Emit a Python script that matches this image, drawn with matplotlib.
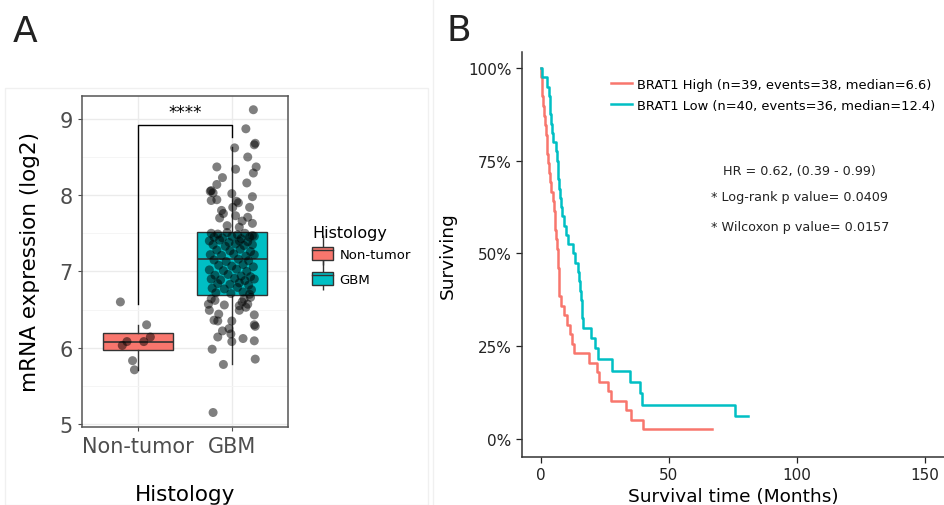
import numpy as np
import matplotlib
matplotlib.use('Agg')
import matplotlib.pyplot as plt
import matplotlib.patches as mpatches
from matplotlib.lines import Line2D
from matplotlib.legend_handler import HandlerPatch

# ---- panel A data ----
groups = ['Non-tumor', 'GBM']
group_colors = ['#F8766D', '#00BFC4']
box_q1 = [5.97, 6.69]
box_med = [6.08, 7.16]
box_q3 = [6.19, 7.52]
whisker_lo = [5.71, 5.78]
whisker_hi = [6.30, 8.63]

normal_jitter = [-0.19, 0.09, -0.17, -0.12, 0.06, 0.13, -0.06, -0.04]
normal_expr = [6.60, 6.30, 6.03, 6.08, 6.08, 6.14, 5.83, 5.71]

gbm_jitter = [
    0.23, 0.15, 0.24, 0.25, 0.03, 0.17, 0.26, -0.16, 0.04, 0.23, -0.10, 0.16,
    -0.16, -0.22, -0.20, -0.23, 0.22, 0.00, -0.16, -0.22, 0.05, 0.07, -0.11,
    0.01, 0.19, -0.13, 0.04, 0.17, 0.22, -0.05, 0.11, -0.09, 0.08,
    -0.22, -0.15, -0.05, 0.06, 0.14, 0.22, -0.19, -0.10, 0.00, 0.10, 0.19,
    0.24, -0.24, -0.13, -0.03, 0.08, 0.17, -0.20, -0.07, 0.04, 0.13, 0.22,
    -0.16, -0.02, 0.09, 0.20, -0.23, -0.11, 0.02, 0.15, 0.24, -0.19, -0.06,
    0.07, 0.18, -0.14, 0.00, 0.12, 0.23, -0.24, -0.09, 0.05, 0.16, -0.18,
    -0.04, 0.10, 0.20, -0.22, -0.12, 0.03, 0.14, 0.24, -0.15, -0.02, 0.08,
    0.18, -0.21, -0.08, 0.06, 0.21, -0.17, -0.01, 0.12, 0.19,
    -0.22, -0.08, -0.24, -0.14, -0.19, -0.15, 0.11, 0.17, 0.15, 0.08, 0.24,
    0.00, 0.24, 0.25, -0.10, -0.03, -0.01, -0.15, 0.00, 0.12, 0.24, -0.21,
    0.25, -0.09, -0.20, 0.13, -0.25, 0.08, -0.18, 0.20,
]
gbm_expr = [
    9.12, 8.87, 8.66, 8.68, 8.62, 8.50, 8.37, 8.37, 8.34, 8.29, 8.23, 8.16,
    8.14, 8.06, 8.03, 8.05, 7.98, 8.02, 7.94, 7.93, 7.92, 7.90, 7.80,
    7.84, 7.84, 7.70, 7.73, 7.71, 7.63, 7.60, 7.66, 7.76, 7.58,
    7.50, 7.49, 7.51, 7.48, 7.50, 7.47, 7.45, 7.44, 7.46, 7.43, 7.45,
    7.46, 7.40, 7.41, 7.38, 7.40, 7.39, 7.35, 7.33, 7.36, 7.34, 7.35,
    7.28, 7.27, 7.29, 7.26, 7.22, 7.21, 7.23, 7.20, 7.22, 7.15, 7.13,
    7.16, 7.14, 7.08, 7.07, 7.09, 7.06, 7.02, 7.01, 7.03, 7.00, 6.95,
    6.96, 6.94, 6.93, 6.90, 6.89, 6.91, 6.88, 6.90, 6.84, 6.83, 6.85,
    6.82, 6.78, 6.77, 6.79, 6.76, 6.72, 6.71, 6.73, 6.70,
    6.64, 6.56, 6.49, 6.44, 6.36, 6.35, 6.60, 6.57, 6.53, 6.49, 6.43,
    6.35, 6.30, 6.28, 6.22, 6.25, 6.18, 6.14, 6.08, 6.12, 6.09, 5.98,
    5.85, 5.78, 5.15, 6.64, 6.57, 6.55, 6.62, 6.66,
]

# ---- panel B data ----
high_times = [0.2, 0.4, 0.6, 0.9, 1.2, 1.5, 1.9, 2.2, 2.5, 2.9, 3.2, 3.7, 4.1,
              4.6, 5.0, 5.3, 5.6, 5.8, 6.1, 6.6, 6.8, 7.0, 7.1, 7.2, 7.9, 9.1,
              10.0, 11.3, 12.2, 13.0, 18.9, 22.0, 22.8, 26.3, 27.2, 33.2, 35.0,
              39.7, 66.7]
high_events = [1] * 38 + [0]
low_times = [0.3, 2.2, 3.3, 3.5, 3.6, 3.8, 4.3, 4.8, 5.8, 6.2, 6.5, 6.8, 7.1,
             7.4, 7.7, 8.1, 9.0, 9.8, 10.5, 12.4, 13.3, 14.6, 15.0, 15.3, 15.6,
             15.9, 16.2, 16.5, 17.5, 19.4, 21.1, 21.5, 22.4, 27.6, 34.8, 38.7,
             39.3, 75.8, 81.0, 81.0]
low_events = [1] * 28 + [0, 1, 1, 0, 1, 1, 1, 1, 1, 1, 0, 0]
km_labels = ['BRAT1 High (n=39, events=38, median=6.6)',
             'BRAT1 Low (n=40, events=36, median=12.4)']
km_colors = ['#F8766D', '#00BFC4']


def km_curve(times, events):
    order = np.argsort(times, kind='stable')
    t = np.asarray(times, dtype=float)[order]
    e = np.asarray(events)[order]
    xs, ys = [0.0], [1.0]
    s = 1.0
    at_risk = len(t)
    for ti, ei in zip(t, e):
        if ei:
            s *= (at_risk - 1) / at_risk
            xs.append(ti)
            ys.append(s)
        at_risk -= 1
    xs.append(t.max())
    ys.append(s)
    return xs, ys


def box_key(legend, orig_handle, xdescent, ydescent, width, height, fontsize):
    return mpatches.Rectangle((-xdescent, -ydescent + height * 0.2), width, height * 0.6)


fig = plt.figure(figsize=(9.44, 5.06), dpi=100)
W, H = 944, 506

# faint panel frames
fig.patches.append(mpatches.Rectangle((5 / W, 0), 423 / W, 417 / H, transform=fig.transFigure,
                                      fill=False, edgecolor='#F0F0F0', linewidth=1))
fig.add_artist(Line2D([433 / W, 433 / W], [0, 1], color='#F0F0F0', linewidth=1))

# ---------------- panel A ----------------
axA = fig.add_axes([82 / W, 1 - 428 / H, 206 / W, 331 / H])

stats = []
for i in range(len(groups)):
    stats.append(dict(med=box_med[i], q1=box_q1[i], q3=box_q3[i],
                      whislo=whisker_lo[i], whishi=whisker_hi[i], fliers=[]))
bp = axA.bxp(stats, positions=[1, 2], widths=0.75, patch_artist=True,
             showfliers=False, showcaps=False,
             medianprops=dict(color='#333333', linewidth=1.2),
             whiskerprops=dict(color='#333333', linewidth=1.0),
             boxprops=dict(edgecolor='#333333', linewidth=1.0))
for patch, c in zip(bp['boxes'], group_colors):
    patch.set_facecolor(c)

axA.scatter(1 + np.array(normal_jitter), normal_expr, s=42, color='black', alpha=0.5,
            edgecolors='none', zorder=3)
axA.scatter(2 + np.array(gbm_jitter), gbm_expr, s=42, color='black', alpha=0.5,
            edgecolors='none', zorder=3)

# significance bracket
axA.plot([1, 1, 2, 2], [6.57, 8.92, 8.92, 8.76], color='black', linewidth=1.0)
axA.text(1.5, 8.97, '****', ha='center', va='bottom', fontsize=12)

axA.set_xlim(0.4, 2.6)
axA.set_ylim(4.96, 9.30)
axA.set_yticks([5, 6, 7, 8, 9])
axA.set_yticks([5.5, 6.5, 7.5, 8.5], minor=True)
axA.set_xticks([1, 2])
axA.set_xticklabels(groups)
axA.grid(True, which='major', color='#EBEBEB', linewidth=1.0)
axA.grid(True, which='minor', axis='y', color='#F4F4F4', linewidth=0.6)
axA.set_axisbelow(True)
axA.tick_params(which='minor', length=0)
axA.tick_params(which='major', labelsize=15, colors='#4D4D4D', length=3, width=0.8)
for sp in axA.spines.values():
    sp.set_color('#555555')
    sp.set_linewidth(1.1)

axA.set_ylabel('mRNA expression (log2)', fontsize=15.5, labelpad=14)
axA.set_xlabel('Histology', fontsize=15.5, labelpad=20)

handles = [(Line2D([], [], marker='|', markersize=21, markeredgewidth=1.0, linestyle='none',
                   color='#333333'),
            mpatches.Patch(facecolor=c, edgecolor='#333333', linewidth=1.0),
            Line2D([], [], color='#333333', linewidth=1.0)) for c in group_colors]
legA = fig.legend(handles, groups, title='Histology', loc='upper left',
                  bbox_to_anchor=(312 / W, 1 - 226 / H), frameon=False, fontsize=9.5,
                  title_fontsize=11.5, alignment='left', borderpad=0, borderaxespad=0,
                  handlelength=1.6, handleheight=2.2, labelspacing=0.2, handletextpad=0.5,
                  handler_map={mpatches.Patch: HandlerPatch(patch_func=box_key)})

fig.text(13 / W, 1 - 32 / H, 'A', fontsize=26, va='center', ha='left', color='#222222')

# ---------------- panel B ----------------
axB = fig.add_axes([522 / W, 1 - 458 / H, 422 / W, 405 / H])
axB.set_xlim(-7.4, 157.4)
axB.set_ylim(-0.0485, 1.043)
for times, events, lab, c in zip([high_times, low_times], [high_events, low_events],
                                 km_labels, km_colors):
    xs, ys = km_curve(times, events)
    axB.step(xs, ys, where='post', color=c, linewidth=1.8, label=lab)

axB.set_xticks([0, 50, 100, 150])
axB.set_yticks([0, 0.25, 0.5, 0.75, 1.0])
axB.set_yticklabels(['0%', '25%', '50%', '75%', '100%'])
axB.spines['top'].set_visible(False)
axB.spines['right'].set_visible(False)
for sp in ['left', 'bottom']:
    axB.spines[sp].set_color('#333333')
    axB.spines[sp].set_linewidth(1.1)
axB.tick_params(labelsize=11, colors='#222222', length=4, width=0.9)
axB.set_ylabel('Surviving', fontsize=13.3, labelpad=8)
axB.set_xlabel('Survival time (Months)', fontsize=13.3, labelpad=3)

axB.legend(loc='upper left', bbox_to_anchor=(611 / W, 1 - 79 / H),
           bbox_transform=fig.transFigure, frameon=False, fontsize=9.4,
           borderpad=0, borderaxespad=0, handlelength=1.6, handletextpad=0.4,
           labelspacing=0.6)

fig.text(723 / W, 1 - 171 / H, 'HR = 0.62, (0.39 - 0.99)', fontsize=9.2, ha='left',
         va='center', color='#222222')
fig.text(711 / W, 1 - 198 / H, '* Log-rank p value= 0.0409', fontsize=9.2, ha='left',
         va='center', color='#222222')
fig.text(711 / W, 1 - 227 / H, '* Wilcoxon p value= 0.0157', fontsize=9.2, ha='left',
         va='center', color='#222222')

fig.text(446 / W, 1 - 31 / H, 'B', fontsize=26, va='center', ha='left', color='#222222')

fig.savefig('out.png', dpi=100)
